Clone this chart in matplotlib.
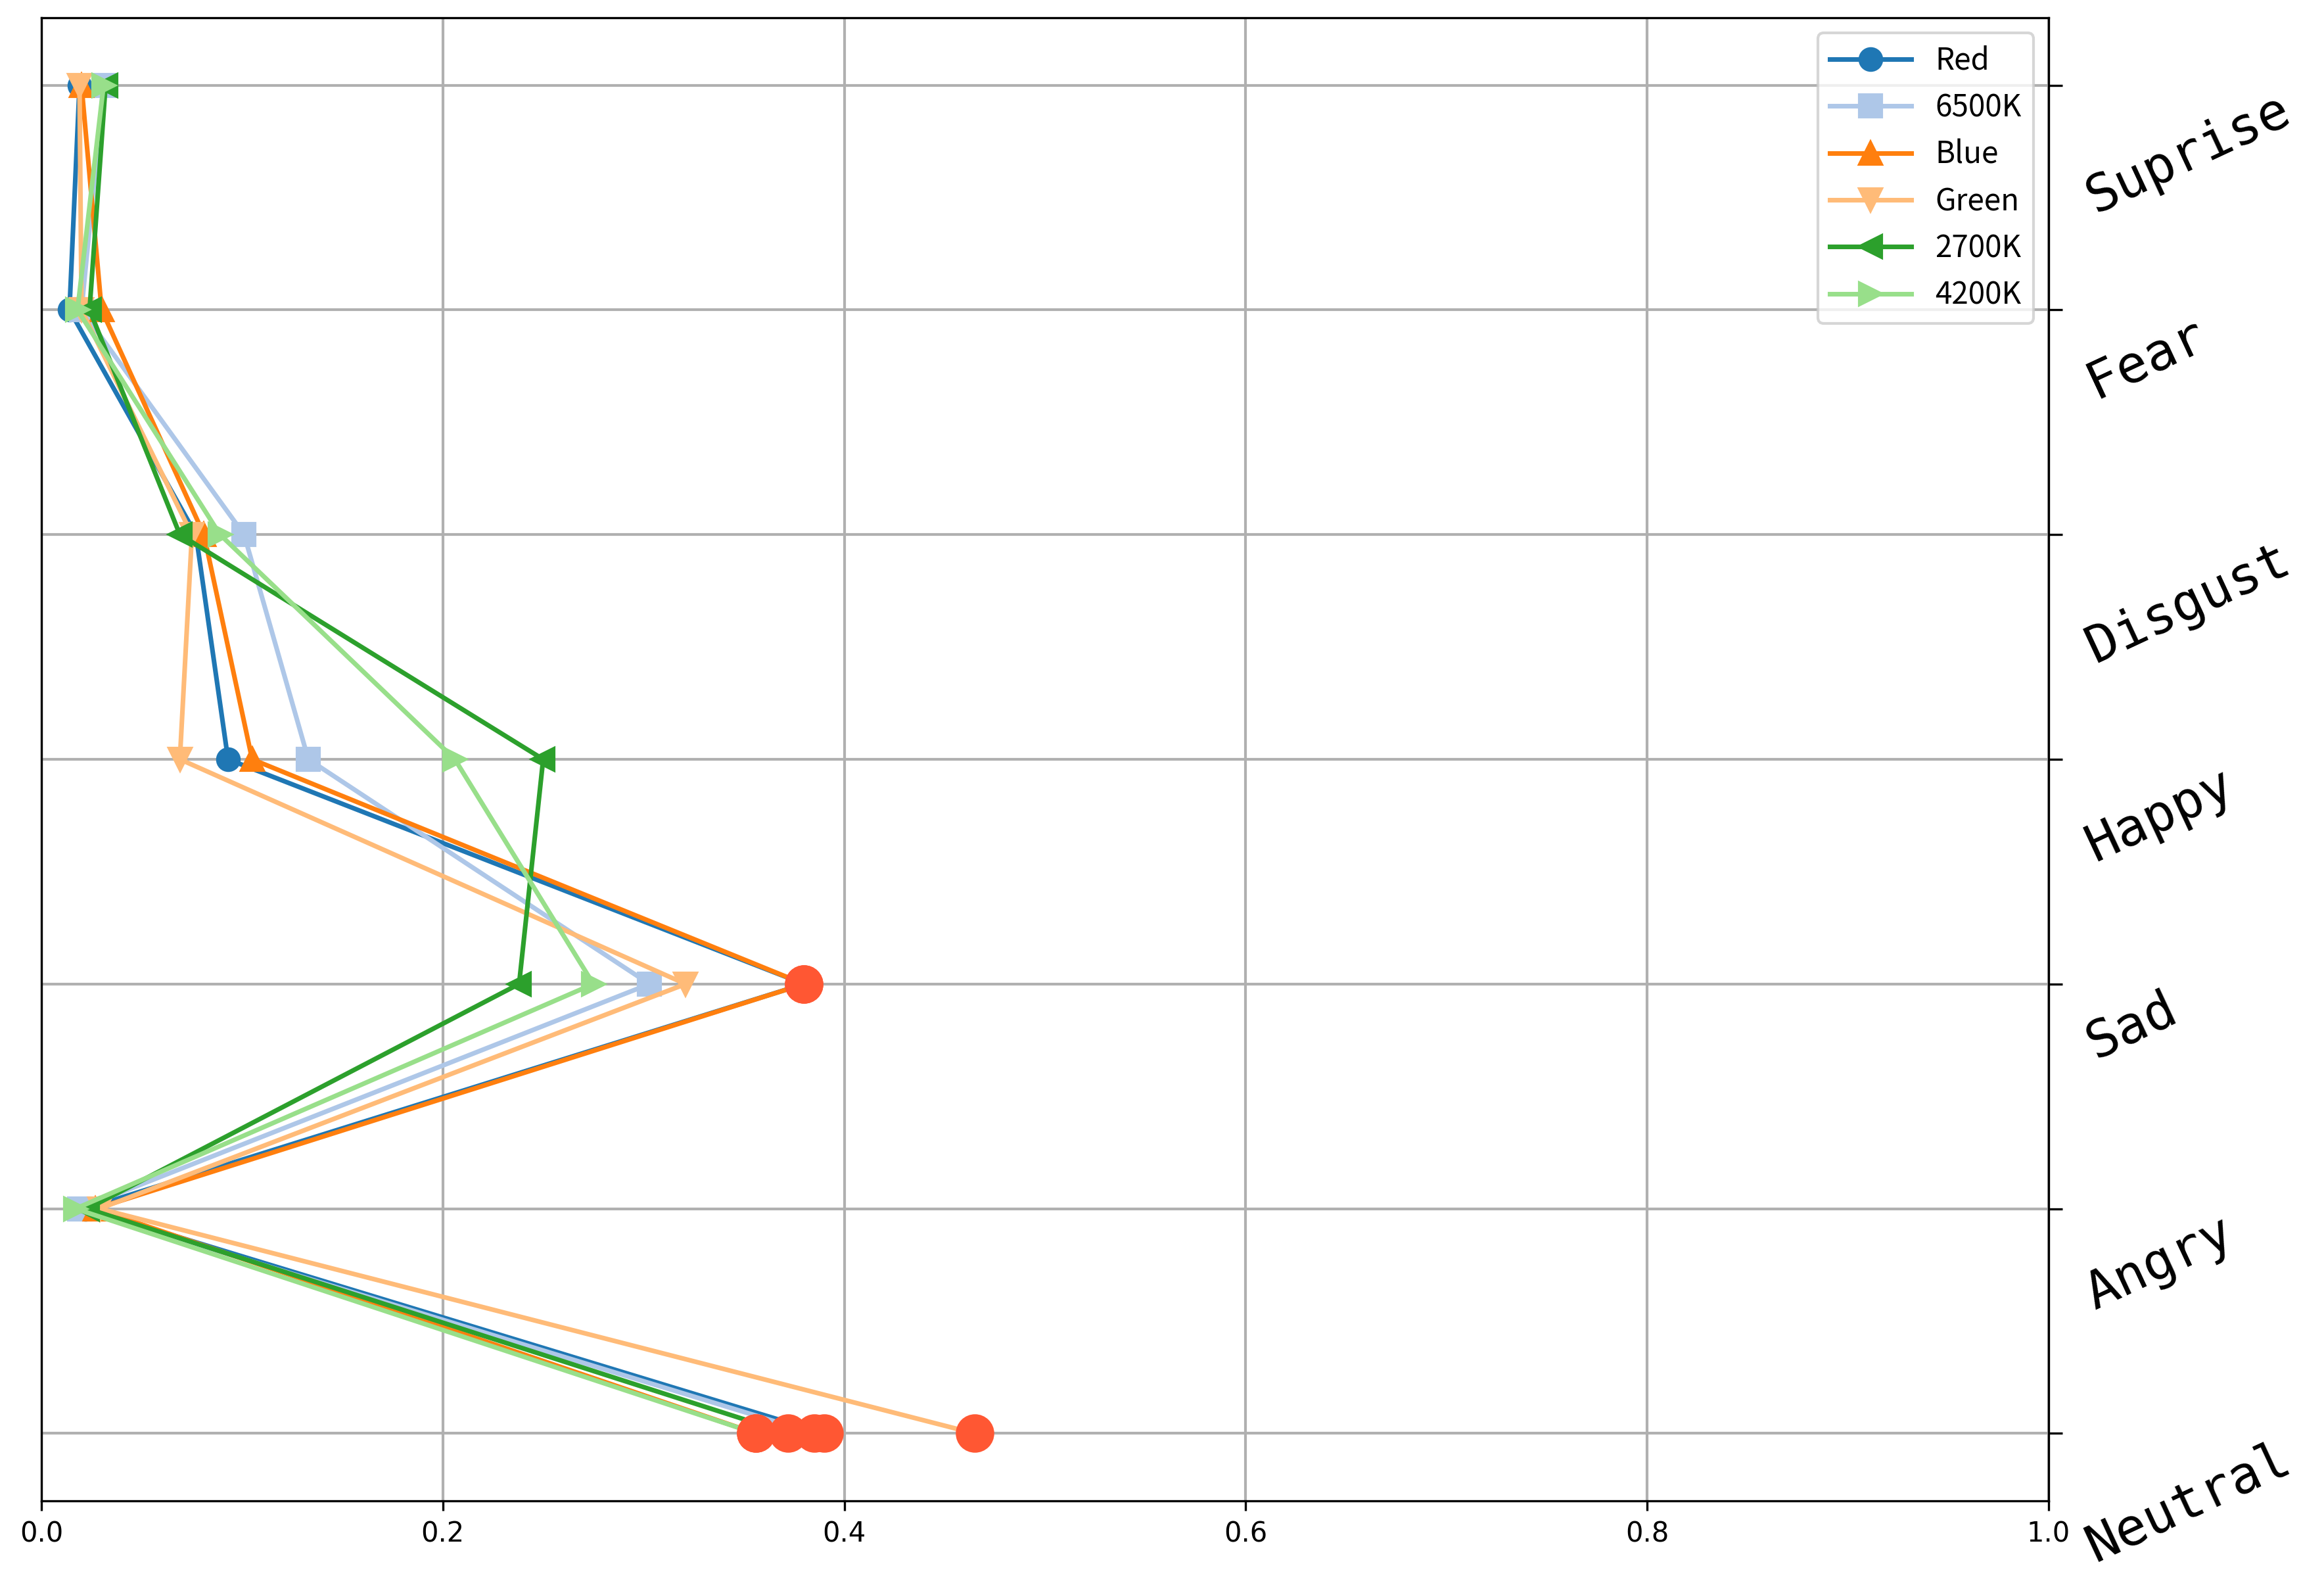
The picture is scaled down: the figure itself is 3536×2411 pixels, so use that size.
import numpy as np
import matplotlib
matplotlib.use("Agg")
import matplotlib.pyplot as plt

# categories from top to bottom
emotions = ['Suprise', 'Fear', 'Disgust', 'Happy', 'Sad', 'Angry', 'Neutral']

red_vals   = [0.019, 0.014, 0.077, 0.093, 0.380, 0.022, 0.390]
k6500_vals = [0.031, 0.020, 0.101, 0.133, 0.303, 0.019, 0.385]
blue_vals  = [0.020, 0.030, 0.081, 0.105, 0.380, 0.027, 0.356]
green_vals = [0.019, 0.020, 0.075, 0.069, 0.321, 0.029, 0.465]
k2700_vals = [0.032, 0.024, 0.069, 0.250, 0.238, 0.023, 0.372]
k4200_vals = [0.031, 0.018, 0.089, 0.206, 0.275, 0.017, 0.356]

series_names = ['Red', '6500K', 'Blue', 'Green', '2700K', '4200K']
series_vals = [red_vals, k6500_vals, blue_vals, green_vals, k2700_vals, k4200_vals]
markers = ['o', 's', '^', 'v', '<', '>']
colors = plt.cm.tab20.colors[:6]

threshold = 0.35   # points above this get the red highlight

fig = plt.figure(figsize=(3536 / 300, 2411 / 300), dpi=300)
ax = fig.add_axes([0.0178, 0.0531, 0.8637, 0.9357])

y = np.arange(len(emotions))

for name, vals, m, c in zip(series_names, series_vals, markers, colors):
    ax.plot(vals, y, marker=m, color=c, lw=1.7, markersize=8, label=name)

# highlight big values
hx, hy = [], []
for vals in series_vals:
    for i, v in enumerate(vals):
        if v > threshold:
            hx.append(v)
            hy.append(y[i])
ax.scatter(hx, hy, s=170, color='#FF5733', zorder=5)

ax.set_xlim(0, 1.0)
ax.set_yticks(y)
ax.set_yticklabels(emotions, rotation=25, fontsize=19, family='DejaVu Sans Mono',
                   va='top')
ax.yaxis.tick_right()
ax.invert_yaxis()
ax.tick_params(axis='y', length=5, pad=6)
ax.tick_params(axis='x', labelsize=10)
ax.grid(True, color='#b0b0b0', lw=1.0)

leg = ax.legend(loc='upper right', fontsize=11, handlelength=2.7,
                labelspacing=0.5, borderaxespad=0.5,
                prop={'family': 'Noto Sans CJK SC', 'size': 11})

fig.savefig('out.png', dpi=300)
